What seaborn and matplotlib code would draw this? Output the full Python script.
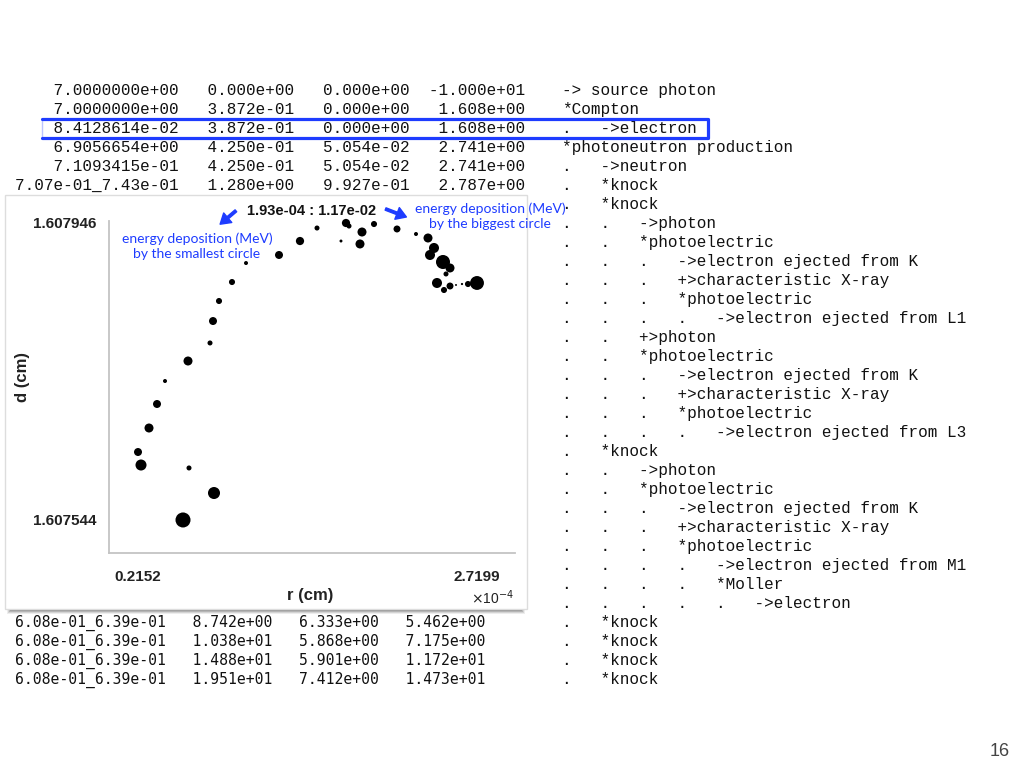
import numpy as np
import pandas as pd
import matplotlib
matplotlib.use('Agg')
import matplotlib.pyplot as plt
from matplotlib.patches import Rectangle, FancyArrowPatch
from matplotlib.lines import Line2D
import seaborn as sns

# electron track: radial position r (1e-4 cm), depth d (cm), energy deposited (MeV)
r_1e4 = [0.5477, 0.7767, 0.5920, 0.2374, 0.2152, 0.2965, 0.3556, 0.4147, 0.5846, 0.7472,
         0.7693, 0.8137, 0.9097, 1.0132, 1.2570, 1.4121, 1.5378, 1.7150, 1.7520, 1.7742,
         1.8702, 1.8554, 1.9589, 2.1288, 2.2692, 2.3579, 2.4022, 2.3727, 2.4687, 2.5204,
         2.4909, 2.4243, 2.5204, 2.4761, 2.5648, 2.6091, 2.6534, 2.7199]
d_cm = [1.6075440, 1.6075805, 1.6076144, 1.6076184, 1.6076360, 1.6076685, 1.6077010, 1.6077321,
        1.6077592, 1.6077836, 1.6078133, 1.6078404, 1.6078661, 1.6078918, 1.6079027, 1.6079216,
        1.6079392, 1.6079216, 1.6079460, 1.6079419, 1.6079338, 1.6079176, 1.6079446, 1.6079379,
        1.6079311, 1.6079257, 1.6079122, 1.6079027, 1.6078932, 1.6078851, 1.6078770, 1.6078648,
        1.6078607, 1.6078553, 1.6078621, 1.6078634, 1.6078634, 1.6078648]
edep_mev = [1.17e-2, 7.5e-3, 1.3e-3, 6.3e-3, 3.3e-3, 4.2e-3, 3.3e-3, 8.2e-4, 4.2e-3, 1.3e-3,
            3.3e-3, 1.9e-3, 1.9e-3, 8.2e-4, 3.3e-3, 3.5e-3, 1.3e-3, 4.5e-4, 3.5e-3, 1.3e-3,
            4.2e-3, 4.2e-3, 1.9e-3, 2.5e-3, 8.2e-4, 4.2e-3, 5.2e-3, 5.2e-3, 1.02e-2, 4.2e-3,
            1.3e-3, 5.2e-3, 2.5e-3, 1.9e-3, 1.93e-4, 2.5e-4, 1.9e-3, 1.0e-2]

r_ticks = [0.2152e-4, 2.7199e-4]
r_ticklabels = ['0.2152', '2.7199']
d_ticks = [1.607544, 1.607946]
d_ticklabels = ['1.607544', '1.607946']

# EGS-style history listing around the plot
col1_top = ['7.0000000e+00', '7.0000000e+00', '8.4128614e-02', '6.9056654e+00', '7.1093415e-01', '7.07e-01_7.43e-01']
col2_top = ['0.000e+00', '3.872e-01', '3.872e-01', '4.250e-01', '4.250e-01', '1.280e+00']
col3_top = ['0.000e+00', '0.000e+00', '0.000e+00', '5.054e-02', '5.054e-02', '9.927e-01']
col4_top = ['-1.000e+01', '1.608e+00', '1.608e+00', '2.741e+00', '2.741e+00', '2.787e+00']

col1_bot = ['6.08e-01_6.39e-01'] * 4
col2_bot = ['8.742e+00', '1.038e+01', '1.488e+01', '1.951e+01']
col3_bot = ['6.333e+00', '5.868e+00', '5.901e+00', '7.412e+00']
col4_bot = ['5.462e+00', '7.175e+00', '1.172e+01', '1.473e+01']

desc = [
    '-> source photon',
    '*Compton',
    '.   ->electron',
    '*photoneutron production',
    '.   ->neutron',
    '.   *knock',
    '.   *knock',
    '.   .   ->photon',
    '.   .   *photoelectric',
    '.   .   .   ->electron ejected from K',
    '.   .   .   +>characteristic X-ray',
    '.   .   .   *photoelectric',
    '.   .   .   .   ->electron ejected from L1',
    '.   .   +>photon',
    '.   .   *photoelectric',
    '.   .   .   ->electron ejected from K',
    '.   .   .   +>characteristic X-ray',
    '.   .   .   *photoelectric',
    '.   .   .   .   ->electron ejected from L3',
    '.   *knock',
    '.   .   ->photon',
    '.   .   *photoelectric',
    '.   .   .   ->electron ejected from K',
    '.   .   .   +>characteristic X-ray',
    '.   .   .   *photoelectric',
    '.   .   .   .   ->electron ejected from M1',
    '.   .   .   .   *Moller',
    '.   .   .   .   .   ->electron',
    '.   *knock',
    '.   *knock',
    '.   *knock',
    '.   *knock',
]

sns.set_style('white')
plt.rcParams['font.family'] = ['Liberation Sans', 'DejaVu Sans']

W, H = 1024, 768
fig = plt.figure(figsize=(W / 100, H / 100), dpi=100)
fig.patch.set_facecolor('white')


def fx(x):
    return x / W


def fy(y):
    return 1 - y / H


blue = '#1e3cff'
row0, step = 90, 19

# listing text (behind the plot panel); baseline 5px under the row centre
for i, (a, b, c, d) in enumerate(zip(col1_top, col2_top, col3_top, col4_top)):
    fig.text(fx(15), fy(row0 + step * i + 5), f'{a:>17}   {b:>9}   {c:>9}  {d:>10}',
             family='Liberation Mono', fontsize=11.5, va='baseline', color='#111', zorder=1)
n0 = len(desc) - len(col1_bot)
for i, (a, b, c, d) in enumerate(zip(col1_bot, col2_bot, col3_bot, col4_bot)):
    fig.text(fx(15), fy(row0 + step * (n0 + i) + 5), f'{a:>17}   {b:>9}   {c:>9}  {d:>10}',
             family='DejaVu Sans Mono', fontsize=10.6, va='baseline', color='#111', zorder=1)
for i, s in enumerate(desc):
    fig.text(fx(562), fy(row0 + step * i + 5), s, family='Liberation Mono', fontsize=11.5,
             va='baseline', color='#111', zorder=1)

# highlight box on the Compton electron row
fig.add_artist(Line2D([fx(42), fx(708), fx(708), fx(42)], [fy(118.5), fy(118.5), fy(137.5), fy(137.5)],
                      color=blue, lw=2.3, zorder=4))
fig.add_artist(Line2D([fx(42), fx(42)], [fy(118.5), fy(137.5)], color=blue, lw=1, alpha=0.3, zorder=4))

# plot panel with shadow
for k, a in enumerate([0.10, 0.16, 0.24, 0.32]):
    fig.add_artist(Rectangle((fx(7 + k), fy(614 - k)), (518 - 2 * k) / W, (414 - k) / H,
                             facecolor='#555555', edgecolor='none', alpha=a, zorder=2))
fig.add_artist(Rectangle((fx(5), fy(609)), 522 / W, 414 / H, facecolor='white',
                         edgecolor='#dddddd', lw=1, zorder=2))

ax = fig.add_axes([fx(109), fy(553), (515 - 109) / W, (553 - 221) / H])
ax.set_zorder(3)
ax.set_facecolor('none')

df = pd.DataFrame({'r': np.array(r_1e4) * 1e-4, 'd': d_cm, 'edep': edep_mev})
sns.scatterplot(data=df, x='r', y='d', size='edep', sizes=(2.0, 117),
                size_norm=(min(edep_mev), max(edep_mev)), color='black',
                linewidth=0, legend=False, ax=ax)
ax.collections[0].set_clip_on(False)

ax.set_xlim(0.0009e-4, 3.0007e-4)
ax.set_ylim(1.6074993, 1.6079487)
ax.set_xticks(r_ticks, r_ticklabels)
ax.set_yticks(d_ticks, d_ticklabels)
for lab in ax.get_xticklabels() + ax.get_yticklabels():
    lab.set_fontweight('bold')
    lab.set_fontsize(11)
    lab.set_color('#222')
ax.tick_params(axis='both', direction='out', length=3, width=1, color='#999999', pad=6)
ax.tick_params(axis='x', pad=9)
sns.despine(ax=ax)
for sp in ['left', 'bottom']:
    ax.spines[sp].set_color('#c4c4c4')
    ax.spines[sp].set_linewidth(1.3)

ax.set_xlabel('r (cm)', fontweight='bold', fontsize=12, color='#222')
ax.set_ylabel('d (cm)', fontweight='bold', fontsize=12, color='#222')
ax.xaxis.set_label_coords(0.495, -0.105)
ax.yaxis.set_label_coords(-0.195, 0.53)
ax.set_title(f'{min(edep_mev):.2e} : {max(edep_mev):.2e}', fontweight='bold', fontsize=10.5,
             color='#111', pad=4)
fig.text(fx(492), fy(598), r'$\times$10$^{-4}$', fontsize=10, ha='center', va='center',
         color='#222', zorder=5)

# hand-written notes
fig.text(fx(197), fy(246), 'energy deposition (MeV)\nby the smallest circle', family='Lato',
         fontsize=10, color=blue, ha='center', va='center', linespacing=1.25, zorder=5)
fig.text(fx(490), fy(216), 'energy deposition (MeV)\nby the biggest circle', family='Lato',
         fontsize=10, color=blue, ha='center', va='center', linespacing=1.25, zorder=5)
for p0, p1 in [((238, 209), (218, 226)), ((383, 208), (409, 218))]:
    fig.add_artist(FancyArrowPatch((fx(p0[0]), fy(p0[1])), (fx(p1[0]), fy(p1[1])),
                                   transform=fig.transFigure, arrowstyle='simple,head_width=1.0,head_length=0.8',
                                   mutation_scale=9, color=blue, lw=1, zorder=5))

fig.text(fx(1000), fy(752), '16', fontsize=13, color='#444', ha='center', va='center')

fig.savefig('out.png', dpi=100)
